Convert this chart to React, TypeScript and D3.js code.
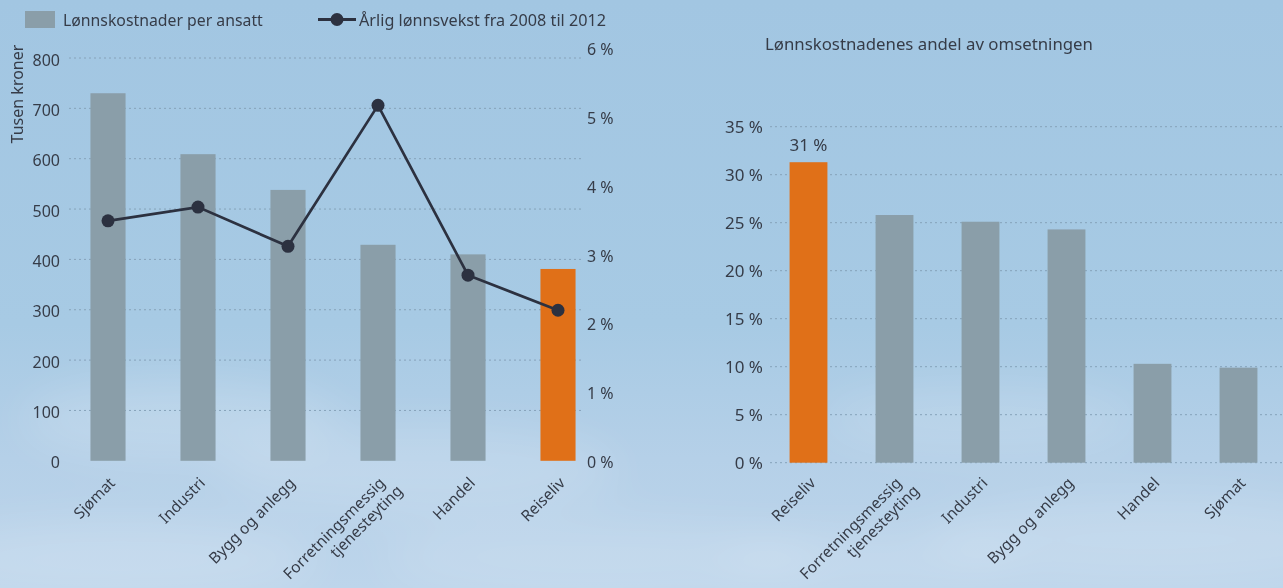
import React from "react";
import * as d3 from "d3";

const W = 1283;
const H = 588;

// Left chart data
const leftCategories = ["Sjømat", "Industri", "Bygg og anlegg", "Forretningsmessig\ntjenesteyting", "Handel", "Reiseliv"];
const leftCosts = [730, 609, 538, 429, 410, 381];
const leftGrowth = [3.49, 3.69, 3.12, 5.17, 2.7, 2.19];
const leftTicks = [0, 100, 200, 300, 400, 500, 600, 700, 800];
const rightAxisTicks = [0, 1, 2, 3, 4, 5, 6];

// Right chart data
const rightCategories = ["Reiseliv", "Forretningsmessig\ntjenesteyting", "Industri", "Bygg og anlegg", "Handel", "Sjømat"];
const rightShares = [31.3, 25.8, 25.1, 24.3, 10.3, 9.9];
const rightTicks = [0, 5, 10, 15, 20, 25, 30, 35];

const legendBar = "Lønnskostnader per ansatt";
const legendLine = "Årlig lønnsvekst fra 2008 til 2012";
const rightTitle = "Lønnskostnadenes andel av omsetningen";
const yTitle = "Tusen kroner";
const highlight = "Reiseliv";

const GRAY = "#8a9ea9";
const ORANGE = "#e07018";
const TEXT = "#363c48";
const LINE = "#2c3140";
const GRID = "#86a2b9";
const FONT = "'Noto Sans', 'Open Sans', sans-serif";

function XLabel({ x, y, label }: { x: number; y: number; label: string }) {
  const lines = label.split("\n");
  return (
    <text
      transform={`translate(${x},${y}) rotate(-45)`}
      textAnchor="end"
      fontSize={15.5}
      fill={TEXT}
      fontFamily={FONT}
    >
      {lines.map((l, i) => (
        <tspan key={i} x={i === 0 ? 0 : 7} dy={i === 0 ? 0 : "1.15em"}>
          {l}
        </tspan>
      ))}
    </text>
  );
}

export default function App() {
  const xL = d3.scaleBand<string>().domain(leftCategories).range([63, 603]).paddingInner(0.61).paddingOuter(0.305);
  const yL = d3.scaleLinear().domain([0, 800]).range([460.8, 58]);
  const yRg = d3.scaleLinear().domain([0, 6]).range([460.8, 48.3]);

  const xR = d3.scaleBand<string>().domain(rightCategories).range([765.5, 1281.5]).paddingInner(0.56).paddingOuter(0.28);
  const yR = d3.scaleLinear().domain([0, 35]).range([462.7, 126.7]);

  const linePts: [number, number][] = leftCategories.map((c, i) => [
    (xL(c) as number) + xL.bandwidth() / 2,
    yRg(leftGrowth[i]),
  ]);
  const linePath = d3.line()(linePts) || "";

  return (
    <div style={{ position: "absolute", left: 0, top: 0, width: W, height: H }}>
      <svg width={W} height={H} style={{ display: "block" }}>
        <defs>
          <linearGradient id="sky" x1="0" y1="0" x2="0" y2="1">
            <stop offset="0" stopColor="#a2c6e2" />
            <stop offset="0.55" stopColor="#a7cae4" />
            <stop offset="0.78" stopColor="#b5d0e8" />
            <stop offset="1" stopColor="#bdd5eb" />
          </linearGradient>
          <filter id="blur" x="-50%" y="-50%" width="200%" height="200%">
            <feGaussianBlur stdDeviation="22" />
          </filter>
        </defs>
        <rect x={0} y={0} width={W} height={H} fill="url(#sky)" />
        <g filter="url(#blur)" fill="#ffffff">
          <ellipse cx={180} cy={420} rx={160} ry={40} opacity={0.16} />
          <ellipse cx={420} cy={470} rx={200} ry={45} opacity={0.14} />
          <ellipse cx={120} cy={560} rx={200} ry={40} opacity={0.16} />
          <ellipse cx={600} cy={560} rx={220} ry={40} opacity={0.13} />
          <ellipse cx={980} cy={420} rx={160} ry={35} opacity={0.12} />
          <ellipse cx={1150} cy={540} rx={220} ry={45} opacity={0.14} />
          <ellipse cx={870} cy={560} rx={150} ry={30} opacity={0.12} />
        </g>

        {/* Legend */}
        <rect x={25} y={11} width={30} height={17} fill={GRAY} />
        <text x={63} y={20} dy="0.35em" fontSize={15.8} fill={TEXT} fontFamily={FONT}>
          {legendBar}
        </text>
        <line x1={318} x2={356} y1={19.5} y2={19.5} stroke={LINE} strokeWidth={3} />
        <circle cx={337} cy={19.5} r={6.5} fill={LINE} />
        <text x={359} y={20} dy="0.35em" fontSize={16.2} fill={TEXT} fontFamily={FONT}>
          {legendLine}
        </text>

        {/* Left chart gridlines */}
        {leftTicks.filter((t) => t > 0).map((t) => (
          <line key={t} x1={69} x2={584} y1={yL(t)} y2={yL(t)} stroke={GRID} strokeWidth={1} strokeDasharray="2,3" />
        ))}
        {leftTicks.map((t) => (
          <text key={t} x={60} y={yL(t) + 2} dy="0.35em" textAnchor="end" fontSize={16} fill={TEXT} fontFamily={FONT}>
            {t}
          </text>
        ))}
        {rightAxisTicks.map((t) => (
          <text key={t} x={587} y={yRg(t) + 1.5} dy="0.35em" textAnchor="start" fontSize={16} fill={TEXT} fontFamily={FONT}>
            {`${t} %`}
          </text>
        ))}
        <text
          transform={`translate(17,94) rotate(-90)`}
          textAnchor="middle"
          dy="0.35em"
          fontSize={16}
          fill={TEXT}
          fontFamily={FONT}
        >
          {yTitle}
        </text>

        {/* Left bars */}
        {leftCategories.map((c, i) => (
          <rect
            key={c}
            x={xL(c)}
            y={yL(leftCosts[i])}
            width={xL.bandwidth()}
            height={yL(0) - yL(leftCosts[i])}
            fill={c === highlight ? ORANGE : GRAY}
          />
        ))}
        {/* Line */}
        <path d={linePath} fill="none" stroke={LINE} strokeWidth={2.7} />
        {linePts.map((p, i) => (
          <circle key={i} cx={p[0]} cy={p[1]} r={6.5} fill={LINE} />
        ))}
        {leftCategories.map((c) => (
          <XLabel key={c} x={(xL(c) as number) + xL.bandwidth() / 2 + 8} y={484} label={c} />
        ))}

        {/* Right chart */}
        <text x={765} y={44} dy="0.35em" fontSize={16.8} fill={TEXT} fontFamily={FONT}>
          {rightTitle}
        </text>
        {rightTicks.map((t) => (
          <line key={t} x1={770} x2={W} y1={yR(t)} y2={yR(t)} stroke={GRID} strokeWidth={1} strokeDasharray="2,3" />
        ))}
        {rightTicks.map((t) => (
          <text key={t} x={763} y={yR(t) + 0.5} dy="0.35em" textAnchor="end" fontSize={17} fill={TEXT} fontFamily={FONT}>
            {`${t} %`}
          </text>
        ))}
        {rightCategories.map((c, i) => (
          <rect
            key={c}
            x={xR(c)}
            y={yR(rightShares[i])}
            width={xR.bandwidth()}
            height={yR(0) - yR(rightShares[i])}
            fill={c === highlight ? ORANGE : GRAY}
          />
        ))}
        {rightCategories.map((c, i) =>
          c === highlight ? (
            <text
              key={c}
              x={(xR(c) as number) + xR.bandwidth() / 2}
              y={yR(rightShares[i]) - 17}
              dy="0.35em"
              textAnchor="middle"
              fontSize={17}
              fill={TEXT}
              fontFamily={FONT}
            >
              {`${Math.round(rightShares[i])} %`}
            </text>
          ) : null
        )}
        {rightCategories.map((c) => (
          <XLabel key={c} x={(xR(c) as number) + xR.bandwidth() / 2 + 8} y={484} label={c} />
        ))}
      </svg>
    </div>
  );
}
